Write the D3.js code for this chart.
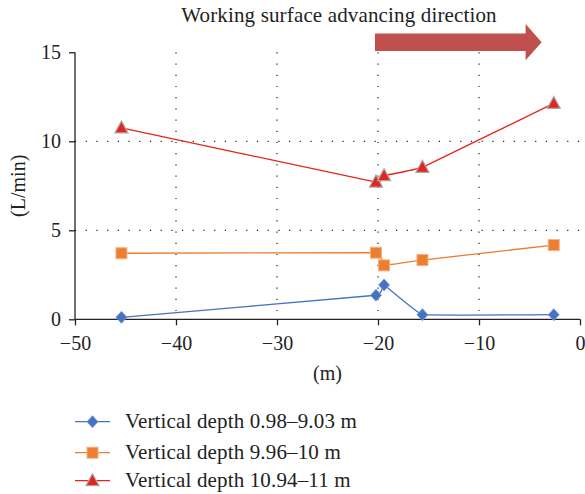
<!DOCTYPE html>
<html><head><meta charset="utf-8">
<script src="https://cdn.jsdelivr.net/npm/d3@7"></script>
<style>body{margin:0;background:#fff}</style>
</head><body>
<svg id="c" width="585" height="494"></svg>
<script>
const xValues = [-45.4, -20.2, -19.4, -15.6, -2.6];
const seriesNames = ["Vertical depth 0.98\u20139.03 m", "Vertical depth 9.96\u201310 m", "Vertical depth 10.94\u201311 m"];
const shallowValues = [0.11, 1.35, 1.93, 0.26, 0.26];
const middleValues = [3.71, 3.74, 3.03, 3.33, 4.17];
const deepValues = [10.75, 7.71, 8.07, 8.54, 12.13];
const xTicks = [-50, -40, -30, -20, -10, 0];
const yTicks = [0, 5, 10, 15];
const arrowRange = [-20.3, -3.8];

const svg = d3.select("#c");
const font = "'Liberation Serif', 'DejaVu Serif', serif";
const x = d3.scaleLinear().domain([-50, 0]).range([75, 580]);
const y = d3.scaleLinear().domain([0, 15]).range([319.3, 52.3]);

// grid
svg.append("g").selectAll("line").data([-40, -30, -20, -10]).join("line")
  .attr("x1", d => x(d)).attr("x2", d => x(d)).attr("y1", y(15)).attr("y2", y(0))
  .attr("stroke", "#222").attr("stroke-width", 1.2).attr("stroke-dasharray", "1.2,10");
svg.append("g").selectAll("line").data([5, 10]).join("line")
  .attr("x1", x(-50)).attr("x2", x(0)).attr("y1", d => y(d)).attr("y2", d => y(d))
  .attr("stroke", "#222").attr("stroke-width", 1.2).attr("stroke-dasharray", "1.2,9.5");

// axes
const xa = svg.append("g").attr("transform", `translate(0,${y(0)})`)
  .call(d3.axisBottom(x).tickValues(xTicks).tickSize(6).tickFormat(d => d === 0 ? "0" : "\u2212" + Math.abs(d)));
const ya = svg.append("g").attr("transform", `translate(${x(-50)},0)`)
  .call(d3.axisLeft(y).tickValues(yTicks).tickSize(6).tickFormat(d3.format("d")));
[xa, ya].forEach(a => {
  a.selectAll("path,line").attr("stroke", "#222").attr("stroke-width", 1.3);
  a.selectAll("text").attr("font-family", font).attr("font-size", 20).attr("fill", "#222");
});
xa.select(".domain").attr("d", `M${x(-50)},0H${x(0)}`);
ya.select(".domain").attr("d", `M0,${y(15)}V${y(0)}`);
xa.selectAll("text").attr("y", 31).attr("dy", 0);
ya.selectAll("text").attr("x", -14).attr("dy", "0.33em");

// labels
svg.append("text").attr("x", x(-25)).attr("y", 380).attr("text-anchor", "middle")
  .attr("font-family", font).attr("font-size", 20).attr("fill", "#222").text("(m)");
svg.append("text").attr("transform", `translate(25,${y(7.5)}) rotate(-90)`).attr("text-anchor", "middle")
  .attr("font-family", font).attr("font-size", 20).attr("fill", "#222").text("(L/min)");
svg.append("text").attr("x", 339).attr("y", 22).attr("text-anchor", "middle")
  .attr("font-family", font).attr("font-size", 21).attr("letter-spacing", 0.15).attr("fill", "#222").text("Working surface advancing direction");

// arrow
const ax0 = x(arrowRange[0]), ax1 = x(arrowRange[1]);
svg.append("path")
  .attr("d", `M${ax0},33.5H${ax1 - 16}V24L${ax1},42.2L${ax1 - 16},60.3V51H${ax0}Z`)
  .attr("fill", "#c0504d");

// series
const series = [
  {vals: shallowValues, color: "#4472c4", marker: "diamond"},
  {vals: middleValues, color: "#ed7d31", marker: "square"},
  {vals: deepValues, color: "#e3261d", marker: "triangle"}
];
const line = d3.line().x(d => x(d[0])).y(d => y(d[1])).curve(d3.curveCardinal.tension(0.85));

function drawMarker(g, type, color, cx, cy) {
  if (type === "diamond") {
    g.append("path").attr("d", `M${cx},${cy - 6}L${cx + 5.5},${cy}L${cx},${cy + 6}L${cx - 5.5},${cy}Z`)
      .attr("fill", color).attr("stroke", "#7a9ad6").attr("stroke-width", 0.8);
  } else if (type === "square") {
    g.append("rect").attr("x", cx - 5.5).attr("y", cy - 5.5).attr("width", 11).attr("height", 11)
      .attr("fill", color).attr("stroke", "#f6b27e").attr("stroke-width", 1);
  } else {
    g.append("path").attr("d", `M${cx},${cy - 7}L${cx + 6.5},${cy + 5}L${cx - 6.5},${cy + 5}Z`)
      .attr("fill", color).attr("stroke", "#a8a8a8").attr("stroke-width", 1.2);
  }
}

series.forEach(s => {
  const pts = xValues.map((xv, i) => [xv, s.vals[i]]);
  svg.append("path").attr("d", line(pts)).attr("fill", "none").attr("stroke", s.color).attr("stroke-width", 1.3);
  const g = svg.append("g");
  pts.forEach(p => drawMarker(g, s.marker, s.color, x(p[0]), y(p[1])));
});

// legend
const legendY = [421.7, 452.7, 480.7];
series.forEach((s, i) => {
  const g = svg.append("g");
  g.append("line").attr("x1", 75).attr("x2", 110).attr("y1", legendY[i]).attr("y2", legendY[i])
    .attr("stroke", s.color).attr("stroke-width", 1.3);
  drawMarker(g, s.marker, s.color, 92.5, legendY[i]);
  g.append("text").attr("x", 125).attr("y", legendY[i] + 6).attr("font-family", font).attr("font-size", 21)
    .attr("letter-spacing", 0.15).attr("fill", "#222").text(seriesNames[i]);
});
</script>
</body></html>
